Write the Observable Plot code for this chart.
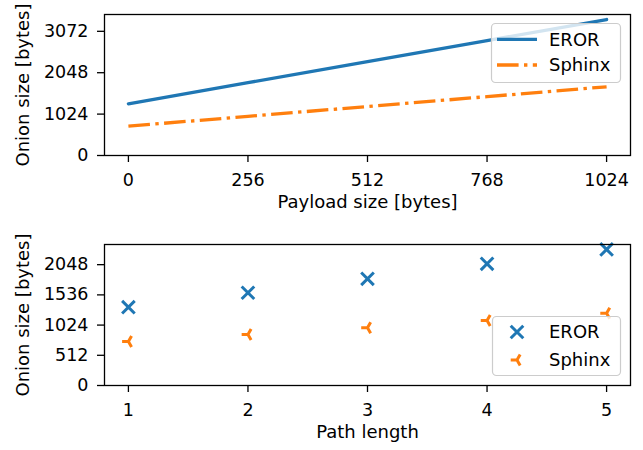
<!DOCTYPE html>
<html><head><meta charset="utf-8">
<script src="https://cdn.jsdelivr.net/npm/d3@7"></script>
<script src="https://cdn.jsdelivr.net/npm/@observablehq/plot@0.6"></script>
<style>
body{margin:0;background:#fff}
#chart{width:643px;height:450px}
#chart svg{display:block}
</style>
</head><body><div id="chart"></div>
<script>
// ---- data ----
const payloadSizes = [0, 256, 512, 768, 1024];
const erorByPayload = [1280, 1801, 2322, 2843, 3364];
const sphinxByPayload = [725, 969, 1212, 1456, 1700];
const pathLengths = [1, 2, 3, 4, 5];
const erorByPath = [1327, 1572, 1809, 2063, 2306];
const sphinxByPath = [746, 865, 978, 1102, 1226];
const seriesNames = ["EROR", "Sphinx"];
const seriesColors = ["#1f77b4", "#ff7f0e"];
const payloadTicks = [0, 256, 512, 768, 1024];
const topYTicks = [0, 1024, 2048, 3072];
const pathTicks = [1, 2, 3, 4, 5];
const bottomYTicks = [0, 512, 1024, 1536, 2048];
const yLabel = "Onion size [bytes]";
const topXLabel = "Payload size [bytes]";
const bottomXLabel = "Path length";

const FONT = "DejaVu Sans";
const FS = 18;       // axis labels, legend
const TFS = 17.5;    // tick labels
const dashDot = "21.6,5.4,3.4,5.4";

const topData = payloadSizes.flatMap((p, i) => [
  {payload: p, size: erorByPayload[i], series: seriesNames[0]},
  {payload: p, size: sphinxByPayload[i], series: seriesNames[1]}
]);
const bottomData = pathLengths.flatMap((p, i) => [
  {path: p, size: erorByPath[i], series: seriesNames[0]},
  {path: p, size: sphinxByPath[i], series: seriesNames[1]}
]);

// custom symbols (matplotlib 'x' and 'tri_left')
const symX = {draw(ctx, size) {
  const r = Math.sqrt(size / Math.PI);
  ctx.moveTo(-r, -r); ctx.lineTo(r, r);
  ctx.moveTo(-r, r); ctx.lineTo(r, -r);
}};
const symTriLeft = {draw(ctx, size) {
  const r = Math.sqrt(size / Math.PI);
  ctx.moveTo(0, 0); ctx.lineTo(-r, 0);
  ctx.moveTo(0, 0); ctx.lineTo(r / 2, -r * 0.866);
  ctx.moveTo(0, 0); ctx.lineTo(r / 2, r * 0.866);
}};

const common = {
  width: 643, height: 225,
  marginLeft: 104, marginRight: 13,
  style: {fontFamily: FONT, fontSize: TFS + "px", color: "black", background: "white"}
};

const fmt = d3.format("d");
const axisOpts = {tickSize: 7, strokeWidth: 1.3, label: null, tickFormat: fmt, fontSize: TFS};

const topPlot = Plot.plot({
  ...common,
  marginTop: 14, marginBottom: 70,
  x: {domain: [-51.2, 1075.2]},
  y: {domain: [0, 3488]},
  marks: [
    Plot.line(topData.filter(d => d.series === seriesNames[0]), {x: "payload", y: "size", stroke: seriesColors[0], strokeWidth: 3.3}),
    Plot.line(topData.filter(d => d.series === seriesNames[1]), {x: "payload", y: "size", stroke: seriesColors[1], strokeWidth: 3.3, strokeDasharray: dashDot, strokeLinecap: "butt"}),
    Plot.axisX({...axisOpts, ticks: payloadTicks, tickPadding: 11}),
    Plot.axisY({...axisOpts, ticks: topYTicks, tickPadding: 9}),
    Plot.frame({stroke: "black", strokeWidth: 1.3}),
    Plot.text([yLabel], {text: d => d, frameAnchor: "left", textAnchor: "middle", dx: -81.5, rotate: -90, fontSize: FS}),
    Plot.text([topXLabel], {text: d => d, frameAnchor: "bottom", dy: 52.3, fontSize: FS})
  ]
});

const bottomPlot = Plot.plot({
  ...common,
  marginTop: 19, marginBottom: 65,
  x: {domain: [0.8, 5.2]},
  y: {domain: [0, 2390]},
  marks: [
    Plot.dot(bottomData.filter(d => d.series === seriesNames[0]), {x: "path", y: "size", symbol: symX, r: 6.3, fill: "none", stroke: seriesColors[0], strokeWidth: 3}),
    Plot.dot(bottomData.filter(d => d.series === seriesNames[1]), {x: "path", y: "size", symbol: symTriLeft, r: 6.3, fill: "none", stroke: seriesColors[1], strokeWidth: 3}),
    Plot.axisX({...axisOpts, ticks: pathTicks, tickPadding: 11}),
    Plot.axisY({...axisOpts, ticks: bottomYTicks, tickPadding: 9}),
    Plot.frame({stroke: "black", strokeWidth: 1.3}),
    Plot.text([yLabel], {text: d => d, frameAnchor: "left", textAnchor: "middle", dx: -81.5, rotate: -90, fontSize: FS}),
    Plot.text([bottomXLabel], {text: d => d, frameAnchor: "bottom", dy: 52.3, fontSize: FS})
  ]
});

function legendBox(svg, x, y, w, h) {
  const g = d3.select(svg).append("g").attr("text-anchor", "start");
  g.append("rect").attr("x", x).attr("y", y).attr("width", w).attr("height", h)
    .attr("rx", 4).attr("fill", "white").attr("fill-opacity", 0.8)
    .attr("stroke", "#cccccc").attr("stroke-width", 1.2);
  return g;
}

// top legend
{
  const g = legendBox(topPlot, 491.5, 23.5, 129, 59);
  const ys = [39.3, 65];
  seriesNames.forEach((name, i) => {
    const ln = g.append("line").attr("x1", 497).attr("x2", 537).attr("y1", ys[i]).attr("y2", ys[i])
      .attr("stroke", seriesColors[i]).attr("stroke-width", 3.3);
    if (i === 1) ln.attr("stroke-dasharray", dashDot);
    g.append("text").attr("x", 549).attr("y", ys[i]).attr("dy", "0.35em").attr("text-anchor", "start")
      .style("font-family", FONT).style("font-size", FS + "px").attr("fill", "black").text(name);
  });
}
// bottom legend
{
  const g = legendBox(bottomPlot, 492.5, 91.5, 128, 59);
  const ys = [107, 135];
  const syms = [symX, symTriLeft];
  seriesNames.forEach((name, i) => {
    const p = d3.path();
    syms[i].draw(p, 6.3 * 6.3 * Math.PI);
    g.append("path").attr("d", p.toString()).attr("transform", `translate(517,${ys[i]})`)
      .attr("fill", "none").attr("stroke", seriesColors[i]).attr("stroke-width", 3);
    g.append("text").attr("x", 549).attr("y", ys[i]).attr("dy", "0.35em").attr("text-anchor", "start")
      .style("font-family", FONT).style("font-size", FS + "px").attr("fill", "black").text(name);
  });
}

const chart = document.getElementById("chart");
chart.appendChild(topPlot);
chart.appendChild(bottomPlot);
</script>
</body></html>
